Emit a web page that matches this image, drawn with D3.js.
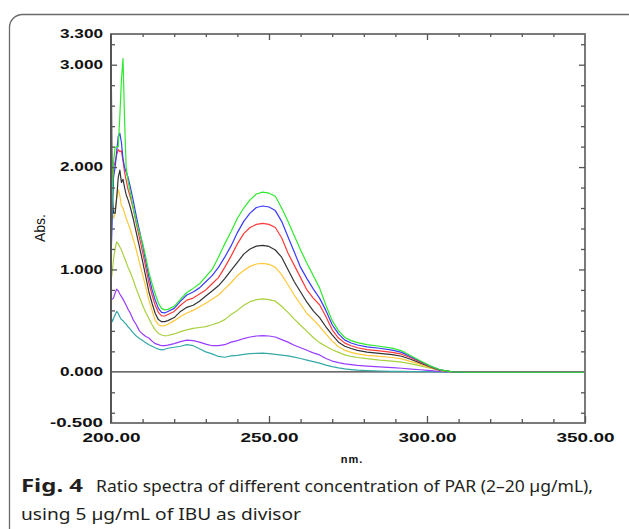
<!DOCTYPE html>
<html>
<head>
<meta charset="utf-8">
<script src="https://cdn.jsdelivr.net/npm/d3@7"></script>
<style>
  html, body { margin: 0; padding: 0; background: #fff; }
  svg { display: block; }
</style>
</head>
<body>
<svg id="chart" width="629" height="529"></svg>
<script>
// ---- Data ----
const wavelengths = [200, 200.4, 200.8, 201.3, 201.8, 202.3, 202.8, 203.3, 203.8, 204.3, 204.8, 205.4,
  206, 207, 208, 209, 210, 211, 212, 213, 214, 215, 216, 217, 218,
  220, 222, 224, 226, 228, 230, 232, 234, 236, 238, 240, 242, 244, 246, 248, 250, 252, 254, 256, 258,
  260, 262, 264, 266, 268, 270, 272, 274, 276, 278,
  281, 285, 289, 292, 295, 298, 301, 304, 308, 312, 320, 330, 340, 350];

const seriesNames = ["green", "blue", "red", "black", "orange", "yellowgreen", "purple", "teal"];
const seriesColors = ["#2eea2e", "#3a3aff", "#ff3a3a", "#333333", "#ffc83a", "#a8d040", "#9a3cff", "#35a8a8"];

const greenVals = [1.25, 1.75, 2.05, 2.19, 2.2, 2.2, 2.5, 2.85, 3.06, 2.45, 2.0, 1.86,
  1.77, 1.61, 1.47, 1.36, 1.26, 1.12, 0.97, 0.86, 0.76, 0.67, 0.62, 0.605, 0.61,
  0.64, 0.71, 0.775, 0.815, 0.86, 0.93, 1.0, 1.12, 1.25, 1.37, 1.5, 1.6, 1.68, 1.737, 1.755, 1.745, 1.715, 1.6, 1.47, 1.33,
  1.19, 1.06, 0.94, 0.82, 0.65, 0.5, 0.4, 0.335, 0.305, 0.285,
  0.265, 0.25, 0.232, 0.205, 0.155, 0.105, 0.058, 0.022, 0, -0.004, -0.004, -0.004, -0.004, -0.004];

const blueVals = [1.1, 1.5, 1.9, 2.0, 2.15, 2.3, 2.33, 2.24, 2.08, 2.0, 1.95, 1.9,
  1.82, 1.68, 1.52, 1.38, 1.24, 1.08, 0.93, 0.8, 0.7, 0.62, 0.58, 0.575, 0.59,
  0.62, 0.69, 0.75, 0.78, 0.82, 0.88, 0.94, 1.02, 1.12, 1.23, 1.36, 1.47, 1.55, 1.605, 1.62, 1.61, 1.575, 1.47, 1.32, 1.17,
  1.02, 0.91, 0.81, 0.72, 0.6, 0.46, 0.37, 0.31, 0.282, 0.262,
  0.243, 0.23, 0.212, 0.19, 0.145, 0.1, 0.055, 0.02, 0, -0.004, -0.004, -0.004, -0.004, -0.004];

const redVals = [1.6, 1.85, 2.0, 2.05, 2.12, 2.17, 2.15, 2.16, 2.06, 1.95, 1.87, 1.78,
  1.72, 1.6, 1.45, 1.31, 1.17, 1.02, 0.87, 0.75, 0.65, 0.58, 0.546, 0.545, 0.56,
  0.59, 0.65, 0.7, 0.72, 0.76, 0.8, 0.86, 0.92, 1.02, 1.13, 1.25, 1.35, 1.41, 1.44, 1.45, 1.44, 1.41, 1.31, 1.16, 1.04,
  0.92, 0.8, 0.72, 0.655, 0.54, 0.41, 0.33, 0.28, 0.255, 0.235,
  0.217, 0.205, 0.19, 0.172, 0.135, 0.093, 0.05, 0.018, 0, -0.004, -0.004, -0.004, -0.004, -0.004];

const blackVals = [3.3, 1.7, 1.55, 1.55, 1.7, 1.9, 1.97, 1.85, 1.88, 1.8, 1.73, 1.68,
  1.62, 1.5, 1.36, 1.22, 1.08, 0.93, 0.78, 0.67, 0.57, 0.51, 0.49, 0.49, 0.5,
  0.53, 0.59, 0.63, 0.65, 0.69, 0.74, 0.79, 0.84, 0.91, 0.99, 1.07, 1.15, 1.2, 1.228, 1.236, 1.225, 1.19, 1.12, 1.0, 0.88,
  0.78, 0.68, 0.595, 0.53, 0.44, 0.36, 0.29, 0.25, 0.228, 0.21,
  0.193, 0.18, 0.168, 0.152, 0.12, 0.085, 0.047, 0.017, 0, -0.004, -0.004, -0.004, -0.004, -0.004];

const orangeVals = [1.35, 1.55, 1.5, 1.55, 1.7, 1.78, 1.72, 1.62, 1.6, 1.55, 1.5, 1.45,
  1.4, 1.3, 1.19, 1.07, 0.95, 0.83, 0.7, 0.6, 0.5, 0.46, 0.449, 0.45, 0.465,
  0.5, 0.54, 0.575, 0.6, 0.635, 0.67, 0.71, 0.75, 0.81, 0.87, 0.94, 0.99, 1.03, 1.053, 1.06, 1.05, 1.02, 0.95, 0.85, 0.75,
  0.66, 0.57, 0.51, 0.445, 0.37, 0.3, 0.245, 0.21, 0.19, 0.175,
  0.16, 0.15, 0.14, 0.127, 0.1, 0.072, 0.04, 0.015, 0, -0.004, -0.004, -0.004, -0.004, -0.004];

const yellowGreenVals = [0.88, 0.98, 1.1, 1.2, 1.27, 1.25, 1.22, 1.19, 1.15, 1.11, 1.07, 1.02,
  0.98, 0.9, 0.81, 0.73, 0.65, 0.58, 0.52, 0.46, 0.41, 0.375, 0.36, 0.352, 0.355,
  0.37, 0.393, 0.41, 0.425, 0.433, 0.442, 0.46, 0.48, 0.51, 0.56, 0.6, 0.65, 0.685, 0.705, 0.712, 0.705, 0.69, 0.64, 0.58, 0.515,
  0.455, 0.395, 0.335, 0.285, 0.25, 0.215, 0.19, 0.165, 0.15, 0.14,
  0.128, 0.115, 0.105, 0.095, 0.078, 0.058, 0.035, 0.013, 0, -0.004, -0.004, -0.004, -0.004, -0.004];

const purpleVals = [0.7, 0.71, 0.72, 0.77, 0.807, 0.79, 0.76, 0.735, 0.71, 0.68, 0.65, 0.61,
  0.58, 0.51, 0.46, 0.4, 0.37, 0.345, 0.33, 0.3, 0.275, 0.265, 0.255, 0.255, 0.26,
  0.275, 0.295, 0.31, 0.305, 0.29, 0.27, 0.255, 0.255, 0.265, 0.29, 0.305, 0.325, 0.34, 0.35, 0.354, 0.35, 0.34, 0.315, 0.29, 0.26,
  0.235, 0.21, 0.185, 0.165, 0.13, 0.105, 0.09, 0.078, 0.07, 0.063,
  0.056, 0.048, 0.04, 0.035, 0.027, 0.02, 0.012, 0.005, 0, -0.004, -0.004, -0.004, -0.004, -0.004];

const tealVals = [0.54, 0.49, 0.52, 0.556, 0.59, 0.57, 0.535, 0.51, 0.5, 0.48, 0.465, 0.44,
  0.42, 0.38, 0.35, 0.325, 0.305, 0.285, 0.265, 0.25, 0.235, 0.222, 0.215, 0.22, 0.23,
  0.24, 0.25, 0.265, 0.255, 0.225, 0.195, 0.175, 0.15, 0.142, 0.155, 0.16, 0.17, 0.177, 0.18, 0.182, 0.178, 0.17, 0.163, 0.155, 0.143,
  0.13, 0.115, 0.1, 0.085, 0.065, 0.05, 0.038, 0.028, 0.022, 0.016,
  0.012, 0.008, 0.005, 0.004, 0.003, 0.002, 0.001, 0, 0, -0.004, -0.004, -0.004, -0.004, -0.004];

const seriesValues = [greenVals, blueVals, redVals, blackVals, orangeVals, yellowGreenVals, purpleVals, tealVals];

const xMajorTicks = [200, 250, 300, 350];
const xMinorTicks = [210, 220, 230, 240, 260, 270, 280, 290, 310, 320, 330, 340];
const yLabelTicks = [-0.5, 0, 1, 2, 3, 3.3];
const yMajorTicks = [1, 2, 3];
const yMinorTicks = [-0.4, -0.2, 0.2, 0.4, 0.6, 0.8, 1.2, 1.4, 1.6, 1.8, 2.2, 2.4, 2.6, 2.8, 3.2];
const xTitle = "nm.";
const yTitle = "Abs.";
const captionBold = "Fig. 4";
const captionLine1 = "Ratio spectra of different concentration of PAR (2–20 µg/mL),";
const captionLine2 = "using 5 µg/mL of IBU as divisor";

// ---- Layout ----
const svg = d3.select("#chart");
const plot = { left: 111, right: 585, top: 34, bottom: 423 };

// card frame
svg.append("rect")
  .attr("x", 9.5).attr("y", 14.5).attr("width", 640).attr("height", 600)
  .attr("rx", 13).attr("ry", 13)
  .attr("fill", "none").attr("stroke", "#6a6a6a").attr("stroke-width", 1.3);

const x = d3.scaleLinear().domain([200, 350]).range([plot.left, plot.right]);
const y = d3.scaleLinear().domain([-0.5, 3.3]).range([plot.bottom, plot.top]);

svg.append("defs").append("clipPath").attr("id", "clip")
  .append("rect").attr("x", plot.left).attr("y", plot.top)
  .attr("width", plot.right - plot.left).attr("height", plot.bottom - plot.top);

// zero line
svg.append("line")
  .attr("x1", x(200)).attr("x2", x(350)).attr("y1", y(0)).attr("y2", y(0))
  .attr("stroke", "#3a3a3a").attr("stroke-width", 1.2);

// series lines
const line = d3.line().x((d, i) => x(wavelengths[i])).y(d => y(d));
const g = svg.append("g").attr("clip-path", "url(#clip)");
for (let s = seriesValues.length - 1; s >= 0; s--) {
  g.append("path")
    .datum(seriesValues[s])
    .attr("d", line)
    .attr("fill", "none")
    .attr("stroke", seriesColors[s])
    .attr("stroke-width", 1.2)
    .attr("stroke-linejoin", "round");
}

// frame
svg.append("rect")
  .attr("x", plot.left).attr("y", plot.top)
  .attr("width", plot.right - plot.left).attr("height", plot.bottom - plot.top)
  .attr("fill", "none").attr("stroke", "#7a7a7a").attr("stroke-width", 2);
svg.append("line")
  .attr("x1", plot.left).attr("x2", plot.left).attr("y1", plot.top).attr("y2", plot.bottom)
  .attr("stroke", "#555").attr("stroke-width", 2);

function styleAxis(sel) {
  sel.select(".domain").remove();
  sel.selectAll(".tick line").attr("stroke", "#555").attr("stroke-width", 1.3);
}

// ticks - bottom
svg.append("g").attr("transform", `translate(0,${plot.bottom})`)
  .call(d3.axisBottom(x).tickValues(xMinorTicks).tickSize(-4).tickFormat(""))
  .call(styleAxis);
const xLab = svg.append("g").attr("transform", `translate(0,${plot.bottom})`)
  .call(d3.axisBottom(x).tickValues(xMajorTicks).tickSize(-7).tickPadding(10).tickFormat(d => d.toFixed(2)))
  .call(styleAxis);
xLab.selectAll("text")
  .attr("font-family", "'Liberation Sans', Arial, sans-serif")
  .attr("font-weight", "bold").attr("font-size", 12).attr("fill", "#111")
  .attr("textLength", 58).attr("lengthAdjust", "spacingAndGlyphs");

// ticks - top
svg.append("g").attr("transform", `translate(0,${plot.top})`)
  .call(d3.axisTop(x).tickValues(xMinorTicks).tickSize(-3).tickFormat(""))
  .call(styleAxis);
svg.append("g").attr("transform", `translate(0,${plot.top})`)
  .call(d3.axisTop(x).tickValues([250, 300]).tickSize(-6).tickFormat(""))
  .call(styleAxis);

// ticks - left / right
svg.append("g").attr("transform", `translate(${plot.left},0)`)
  .call(d3.axisLeft(y).tickValues(yMinorTicks).tickSize(-4).tickFormat(""))
  .call(styleAxis);
svg.append("g").attr("transform", `translate(${plot.left},0)`)
  .call(d3.axisLeft(y).tickValues(yMajorTicks).tickSize(-6).tickFormat(""))
  .call(styleAxis);
svg.append("g").attr("transform", `translate(${plot.right},0)`)
  .call(d3.axisRight(y).tickValues(yMinorTicks).tickSize(-4).tickFormat(""))
  .call(styleAxis);
svg.append("g").attr("transform", `translate(${plot.right},0)`)
  .call(d3.axisRight(y).tickValues(yMajorTicks).tickSize(-6).tickFormat(""))
  .call(styleAxis);

const yLab = svg.append("g").attr("transform", `translate(${plot.left},0)`)
  .call(d3.axisLeft(y).tickValues(yLabelTicks).tickSize(0).tickPadding(8).tickFormat(d => d.toFixed(3)))
  .call(styleAxis);
yLab.selectAll("text")
  .attr("font-family", "'Liberation Sans', Arial, sans-serif")
  .attr("font-weight", "bold").attr("font-size", 12).attr("fill", "#111")
  .attr("textLength", d => d < 0 ? 53 : 43).attr("lengthAdjust", "spacingAndGlyphs");

// axis titles
svg.append("text")
  .attr("x", (plot.left + plot.right) / 2 + 4).attr("y", 463)
  .attr("text-anchor", "middle")
  .attr("font-family", "'Liberation Sans', Arial, sans-serif")
  .attr("font-weight", "bold").attr("font-size", 11).attr("fill", "#111")
  .attr("letter-spacing", 1)
  .text(xTitle);
svg.append("text")
  .attr("transform", "translate(45,228) rotate(-90)")
  .attr("text-anchor", "middle")
  .attr("font-family", "'Liberation Sans', Arial, sans-serif")
  .attr("font-size", 14).attr("fill", "#111")
  .text(yTitle);

// caption
const capFont = "'Noto Sans', 'Open Sans', sans-serif";
svg.append("text")
  .attr("x", 21).attr("y", 492)
  .attr("font-family", capFont).attr("font-weight", "bold")
  .attr("font-size", 18).attr("fill", "#231f20")
  .attr("textLength", 62).attr("lengthAdjust", "spacingAndGlyphs")
  .text(captionBold);
svg.append("text")
  .attr("x", 96).attr("y", 492)
  .attr("font-family", capFont).attr("font-size", 16.5).attr("fill", "#231f20")
  .attr("textLength", 497).attr("lengthAdjust", "spacingAndGlyphs")
  .text(captionLine1);
svg.append("text")
  .attr("x", 21).attr("y", 520)
  .attr("font-family", capFont).attr("font-size", 16.5).attr("fill", "#231f20")
  .attr("textLength", 280).attr("lengthAdjust", "spacingAndGlyphs")
  .text(captionLine2);
</script>
</body>
</html>
